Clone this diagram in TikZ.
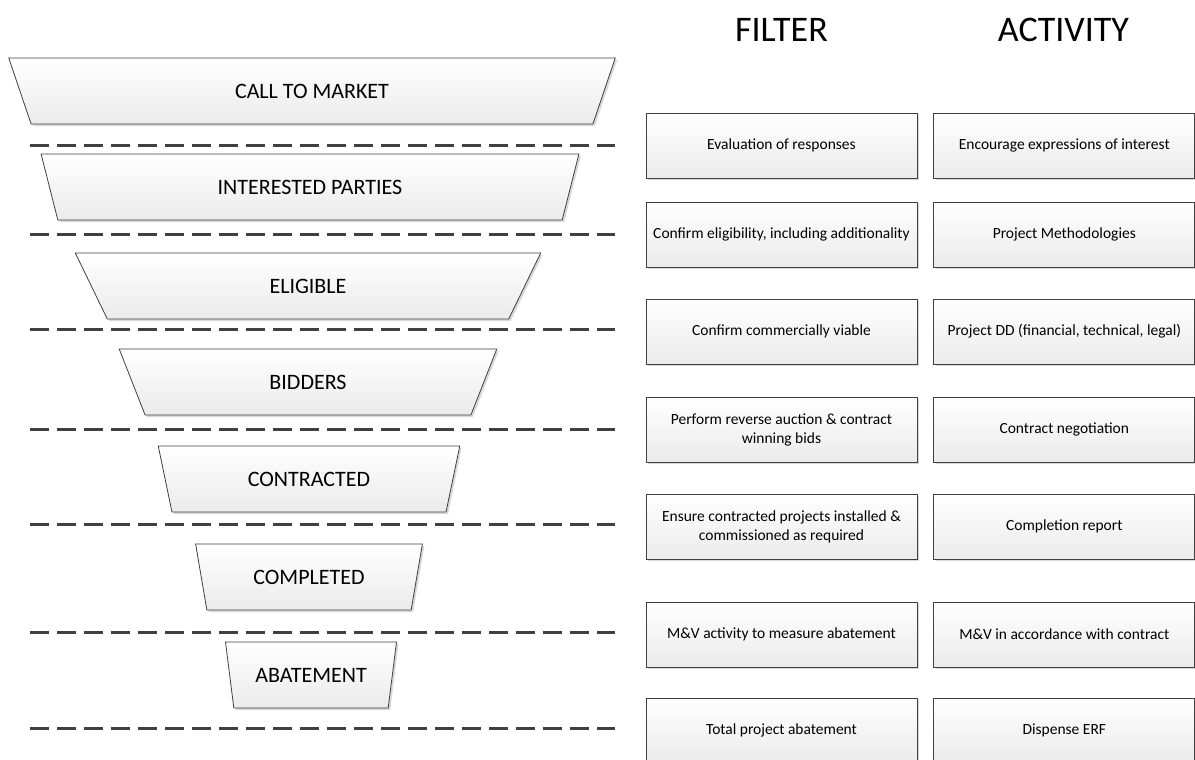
\documentclass[tikz,border=0pt]{standalone}
\usepackage{fontspec}
\setmainfont{Carlito}
\usetikzlibrary{shapes.geometric,shadows,positioning}

\begin{document}
\begin{tikzpicture}[x=1pt,y=-1pt,
  stage/.style={draw=black!75, line width=0.8pt, trapezium, shape border rotate=180,
    trapezium angle=67, trapezium stretches=true, minimum height=66pt, inner sep=0pt,
    top color=white, bottom color=black!8,
    drop shadow={shadow xshift=2pt, shadow yshift=-2pt, fill=black!30, opacity=0.5},
    font=\fontsize{22}{26}\selectfont},
  task/.style={draw=black!75, line width=0.8pt, rectangle, minimum height=65pt, inner sep=2pt,
    top color=white, bottom color=black!8, align=center,
    drop shadow={shadow xshift=2pt, shadow yshift=-2pt, fill=black!30, opacity=0.5},
    font=\fontsize{15.5}{19}\selectfont},
  filt/.style={task, minimum width=271pt},
  act/.style={task, minimum width=261pt},
  heading/.style={font=\fontsize{36}{40}\selectfont},
  divider/.style={black!75, line width=3pt, dash pattern=on 19pt off 8pt}]
\useasboundingbox (0,0) rectangle (1195,760);

% Dividers
\foreach \y in {145,234,329,429,524,632,728}
  \draw[divider] (30,\y) -- (615,\y);

% Funnel
\node[stage, minimum width=607pt] (call) at (312,91) {CALL TO MARKET};
\node[stage, minimum width=539pt] (interested) at (310,187) {INTERESTED PARTIES};
\node[stage, minimum width=466pt] (eligible) at (308,286) {ELIGIBLE};
\node[stage, minimum width=381pt] (bidders) at (308,382) {BIDDERS};
\node[stage, minimum width=302pt] (contracted) at (309,479) {CONTRACTED};
\node[stage, minimum width=227pt] (completed) at (309,577) {COMPLETED};
\node[stage, minimum width=171pt] (abatement) at (311,675) {ABATEMENT};

% Filter column
\node[filt] (f1) at (781.5,145.5) {Evaluation of responses};
\node[filt] (f2) at (781.5,234.5) {Confirm eligibility, including additionality};
\node[filt] (f3) at (781.5,331.5) {Confirm commercially viable};
\node[filt] (f4) at (781.5,429.5) {Perform reverse auction \& contract\\winning bids};
\node[filt] (f5) at (781.5,526.5) {Ensure contracted projects installed \&\\commissioned as required};
\node[filt] (f6) at (781.5,634.5) {M\&V activity to measure abatement};
\node[filt] (f7) at (781.5,730.5) {Total project abatement};

% Activity column
\node[act, right=16pt of f1] (a1) {Encourage expressions of interest};
\node[act, right=16pt of f2] (a2) {Project Methodologies};
\node[act, right=16pt of f3] (a3) {Project DD (financial, technical, legal)};
\node[act, right=16pt of f4] (a4) {Contract negotiation};
\node[act, right=16pt of f5] (a5) {Completion report};
\node[act, right=16pt of f6] (a6) {M\&V in accordance with contract};
\node[act, right=16pt of f7] (a7) {Dispense ERF};

% Labels
\node[heading] (filterhead) at (781.5,30) {FILTER};
\node[heading] (activityhead) at (1063.5,30) {ACTIVITY};
\end{tikzpicture}
\end{document}
